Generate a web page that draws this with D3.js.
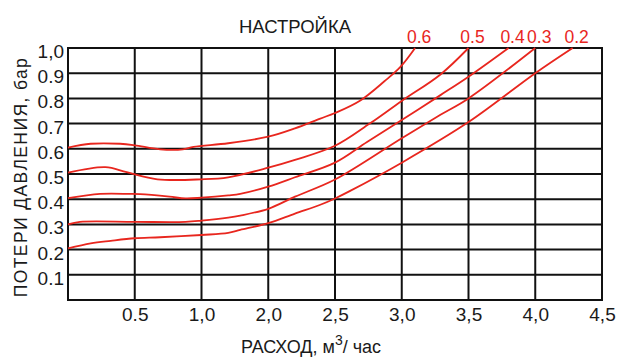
<!DOCTYPE html>
<html>
<head>
<meta charset="utf-8">
<script src="https://cdn.jsdelivr.net/npm/d3@7"></script>
<style>
  html, body { margin: 0; padding: 0; background: #fff; }
  svg { display: block; font-family: "Liberation Sans", Arial, sans-serif; }
</style>
</head>
<body>
<svg id="chart" width="621" height="359"></svg>
<script>
// ---- data ----
const title = "НАСТРОЙКА";
const yTitle = "ПОТЕРИ ДАВЛЕНИЯ, бар";
const xTitleMain = "РАСХОД, м";
const xTitleSup = "3";
const xTitleTail = "/ час";

const xTickValues = [0.5, 1, 2, 2.5, 3, 3.5, 4, 4.5];
const xTickLabels = ["0.5", "1,0", "2,0", "2,5", "3,0", "3,5", "4,0", "4,5"];
const yTickValues = [0.1, 0.2, 0.3, 0.4, 0.5, 0.6, 0.7, 0.8, 0.9, 1.0];
const yTickLabels = ["0.1", "0.2", "0.3", "0.4", "0.5", "0.6", "0.7", "0.8", "0.9", "1,0"];

const settings = ["0.6", "0.5", "0.4", "0.3", "0.2"];

const flow06 = [0, 0.17, 0.39, 0.5, 0.69, 0.86, 0.94, 1.4, 2.0, 2.2, 2.39, 2.5, 2.69, 2.87, 2.99, 3.1];
const loss06 = [0.605, 0.62, 0.62, 0.614, 0.598, 0.598, 0.608, 0.622, 0.648, 0.681, 0.72, 0.742, 0.792, 0.868, 0.925, 1.0];

const flow05 = [0, 0.28, 0.44, 0.67, 1.0, 1.4, 2.0, 2.2, 2.5, 2.76, 3.0, 3.29, 3.5];
const loss05 = [0.505, 0.527, 0.507, 0.479, 0.479, 0.487, 0.525, 0.556, 0.612, 0.70, 0.79, 0.895, 1.0];

const flow04 = [0, 0.24, 0.46, 0.54, 0.76, 0.88, 1.0, 1.4, 1.58, 2.0, 2.2, 2.5, 2.74, 3.0, 3.29, 3.5, 3.8];
const loss04 = [0.404, 0.421, 0.421, 0.42, 0.41, 0.403, 0.406, 0.415, 0.421, 0.45, 0.487, 0.545, 0.627, 0.714, 0.813, 0.886, 1.0];

const flow03 = [0, 0.09, 0.5, 0.88, 1.0, 1.4, 1.58, 2.0, 2.2, 2.5, 3.0, 3.29, 3.5, 4.0];
const loss03 = [0.30, 0.31, 0.31, 0.31, 0.315, 0.327, 0.335, 0.362, 0.41, 0.478, 0.642, 0.735, 0.80, 1.0];

const flow02 = [0, 0.17, 0.32, 0.5, 0.69, 1.0, 1.4, 1.58, 2.0, 2.2, 2.39, 2.5, 2.61, 3.0, 3.5, 4.0, 4.28];
const loss02 = [0.205, 0.225, 0.235, 0.245, 0.249, 0.258, 0.266, 0.278, 0.305, 0.343, 0.378, 0.403, 0.432, 0.545, 0.706, 0.9, 1.0];

const flows = [flow06, flow05, flow04, flow03, flow02];
const losses = [loss06, loss05, loss04, loss03, loss02];

// ---- layout ----
const mLeft = 68, mRight = 602, mTop = 48, mBottom = 300;
const gridColor = "#111";
const red = "#e8261e";

const svg = d3.select("#chart");

const xDomain = [0].concat(xTickValues);
const xRange = xDomain.map((d, i) => mLeft + i * (mRight - mLeft) / (xDomain.length - 1));
const x = d3.scaleLinear().domain(xDomain).range(xRange);
const y = d3.scaleLinear().domain([0, 1]).range([mBottom, mTop]);

// grid
const grid = svg.append("g");
grid.selectAll("line.v").data(xDomain).join("line").attr("class", "v")
  .attr("x1", d => x(d)).attr("x2", d => x(d))
  .attr("y1", y(0) + 1).attr("y2", y(1) - 1)
  .attr("stroke", gridColor).attr("stroke-width", 2);
grid.selectAll("line.h").data([0].concat(yTickValues)).join("line").attr("class", "h")
  .attr("x1", x(0) - 1).attr("x2", x(4.5) + 1)
  .attr("y1", d => y(d)).attr("y2", d => y(d))
  .attr("stroke", gridColor).attr("stroke-width", 2);

// axes labels (via d3 axes)
const xAxis = d3.axisBottom(x).tickValues(xTickValues).tickSize(0)
  .tickFormat((d, i) => xTickLabels[i]);
const gx = svg.append("g").attr("transform", `translate(0,${mBottom})`).call(xAxis);
gx.select(".domain").remove();
gx.selectAll("text").attr("font-size", 19).attr("fill", "#1a1a1a")
  .attr("font-family", "Liberation Sans, Arial, sans-serif")
  .attr("dy", null).attr("y", 21);

const yAxis = d3.axisLeft(y).tickValues(yTickValues).tickSize(0)
  .tickFormat((d, i) => yTickLabels[i]);
const gy = svg.append("g").attr("transform", `translate(${mLeft},0)`).call(yAxis);
gy.select(".domain").remove();
gy.selectAll("text").attr("font-size", 19).attr("fill", "#1a1a1a")
  .attr("font-family", "Liberation Sans, Arial, sans-serif")
  .attr("x", -4).attr("dy", "0.5em");

// curves
const line = d3.line().x(d => x(d[0])).y(d => y(d[1])).curve(d3.curveCatmullRom.alpha(0.5));
const series = settings.map((s, k) => ({
  name: s,
  pts: flows[k].map((f, i) => [f, losses[k][i]])
}));
svg.append("g").selectAll("path").data(series).join("path")
  .attr("d", d => line(d.pts))
  .attr("fill", "none").attr("stroke", red).attr("stroke-width", 1.8);

// curve labels
svg.append("g").selectAll("text").data(series).join("text")
  .attr("x", d => x(d.pts[d.pts.length - 1][0]) + 4)
  .attr("y", 43)
  .attr("text-anchor", "middle")
  .attr("font-size", 17.5).attr("fill", red)
  .text(d => d.name);

// title
svg.append("text").attr("x", 295).attr("y", 33).attr("text-anchor", "middle")
  .attr("font-size", 18.5).attr("fill", "#1a1a1a").text(title);

// y title
svg.append("text")
  .attr("transform", `translate(27,${(mTop + mBottom) / 2 + 3}) rotate(-90)`)
  .attr("text-anchor", "middle").attr("font-size", 17.5)
  .attr("letter-spacing", 1.4).attr("fill", "#1a1a1a")
  .text(yTitle);

// x title
const xt = svg.append("text").attr("x", 311).attr("y", 353).attr("text-anchor", "middle")
  .attr("font-size", 18).attr("fill", "#1a1a1a");
xt.append("tspan").text(xTitleMain);
xt.append("tspan").attr("dy", -8).attr("font-size", 14).text(xTitleSup);
xt.append("tspan").attr("dy", 8).text(xTitleTail);
</script>
</body>
</html>
